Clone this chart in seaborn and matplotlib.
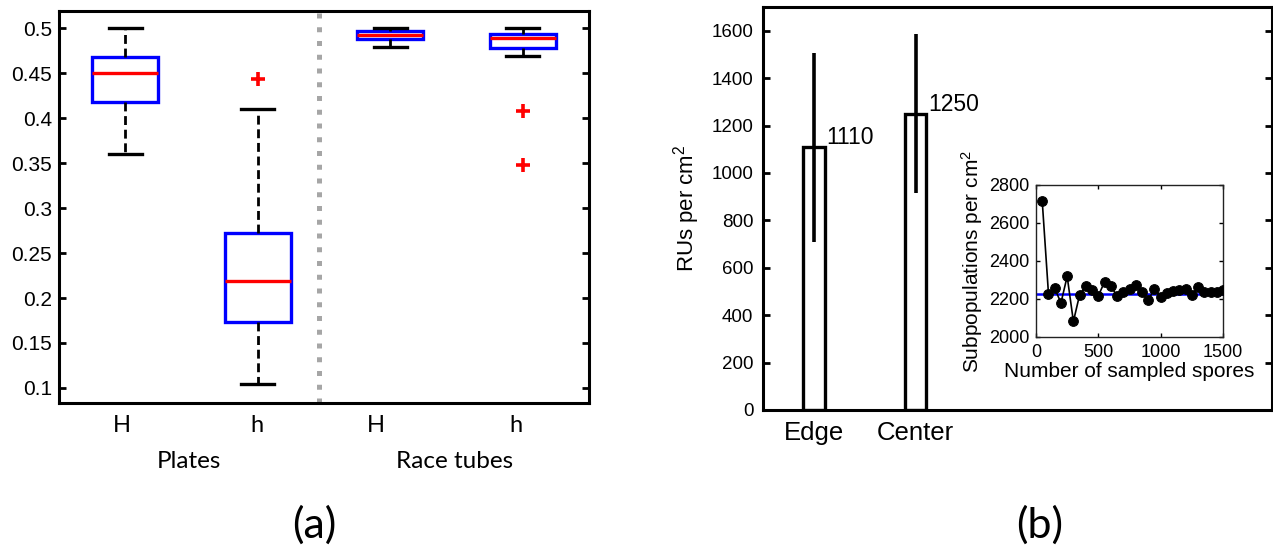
import numpy as np
import pandas as pd
import matplotlib
matplotlib.use("Agg")
import matplotlib.pyplot as plt
import seaborn as sns

# ---------------- data ----------------
box_groups = ["Plates H", "Plates h", "Race tubes H", "Race tubes h"]
plates_H = [0.36, 0.39, 0.418, 0.435, 0.45, 0.46, 0.468, 0.485, 0.50]
plates_h = [0.104, 0.15, 0.173, 0.20, 0.219, 0.25, 0.272, 0.41, 0.443]
race_H = [0.479, 0.485, 0.488, 0.490, 0.492, 0.494, 0.497, 0.499, 0.50]
race_h = [0.348, 0.408, 0.469, 0.478, 0.482, 0.486, 0.489, 0.490, 0.491,
          0.493, 0.495, 0.498, 0.50]
box_ticks = [0.1, 0.15, 0.2, 0.25, 0.3, 0.35, 0.4, 0.45, 0.5]
box_tick_labels = ["0.1", "0.15", "0.2", "0.25", "0.3", "0.35", "0.4", "0.45", "0.5"]
genotype_labels = ["H", "h", "H", "h"]
condition_labels = ["Plates", "Race tubes"]

bar_labels = ["Edge", "Center"]
bar_values = [1110, 1250]
err_low = [710, 916]
err_high = [1505, 1587]
bar_ticks = [0, 200, 400, 600, 800, 1000, 1200, 1400, 1600]

inset_spores = [50, 100, 150, 200, 250, 300, 350, 400, 450, 500, 550, 600, 650,
                700, 750, 800, 850, 900, 950, 1000, 1050, 1100, 1150, 1200, 1250,
                1300, 1350, 1400, 1450, 1500]
inset_subpops = [2715, 2228, 2257, 2179, 2319, 2082, 2222, 2266, 2245, 2217,
                 2290, 2266, 2217, 2235, 2252, 2275, 2235, 2193, 2254, 2210,
                 2231, 2240, 2249, 2252, 2222, 2263, 2235, 2235, 2235, 2245]
inset_mean = 2226

# ---------------- style ----------------
plt.rcParams["font.family"] = ["Liberation Sans", "DejaVu Sans"]
plt.rcParams["mathtext.fontset"] = "custom"
plt.rcParams["mathtext.rm"] = "Liberation Sans"
plt.rcParams["mathtext.it"] = "Liberation Sans"
calibri_like = ["Lato", "DejaVu Sans"]

W, H = 1273, 556
fig = plt.figure(figsize=(W / 100, H / 100), dpi=100)


def fx(px):
    return px / W


def fy(py):
    return 1 - py / H


# ---------------- panel (a): boxplots ----------------
ax1 = fig.add_axes([fx(59), fy(403), fx(589) - fx(59), fy(11) - fy(403)])
df = pd.DataFrame({
    "group": [box_groups[0]] * len(plates_H) + [box_groups[1]] * len(plates_h)
             + [box_groups[2]] * len(race_H) + [box_groups[3]] * len(race_h),
    "value": plates_H + plates_h + race_H + race_h,
})
sns.boxplot(
    data=df, x="group", y="value", order=box_groups, ax=ax1,
    width=0.5, whis=1.5, color="white", linecolor="blue",
    boxprops=dict(facecolor="white", edgecolor="blue", linewidth=2.4),
    medianprops=dict(color="red", linewidth=2.4),
    whiskerprops=dict(color="black", linewidth=2.0, linestyle=(0, (3.2, 1.7))),
    capprops=dict(color="black", linewidth=2.4),
    flierprops=dict(marker="+", markeredgecolor="red", markersize=10,
                    markeredgewidth=2.6),
)
ax1.axvline(1.46, color="#a6a6a6", linewidth=3.6, linestyle=(0, (1.0, 1.75)),
            dash_capstyle="butt", zorder=0)
ax1.set_xlim(-0.5, 3.5)
ax1.set_ylim(0.0833, 0.519)
ax1.set_yticks(box_ticks)
ax1.set_yticklabels(box_tick_labels)
ax1.set_xticks([])
ax1.set_xlabel("")
ax1.set_ylabel("")
ax1.tick_params(axis="y", direction="in", left=True, right=True, length=5,
                width=2, labelsize=15, pad=5)
for s in ax1.spines.values():
    s.set_linewidth(2.2)
    s.set_color("black")

for lbl, xp in zip(genotype_labels, [122, 257, 376, 516]):
    fig.text(fx(xp), fy(425), lbl, ha="center", va="center", fontsize=17,
             family=calibri_like)
for lbl, xp in zip(condition_labels, [189, 455]):
    fig.text(fx(xp), fy(462), lbl, ha="center", va="center", fontsize=17.5,
             family=calibri_like)
fig.text(fx(314), fy(525), "(a)", ha="center", va="center", fontsize=31,
         family=calibri_like)

# ---------------- panel (b): bars ----------------
ax2 = fig.add_axes([fx(763), fy(410), fx(1272) - fx(763), fy(7) - fy(410)])
sns.barplot(x=bar_labels, y=bar_values, ax=ax2, width=0.21, color="white",
            edgecolor="black", linewidth=2.4)
ax2.vlines(np.arange(len(bar_values)), err_low, err_high, color="black",
           linewidth=2.6, zorder=5)
for i, v in enumerate(bar_values):
    ax2.text(i + 0.12, v + 38, str(v), ha="left", va="center", fontsize=16.5)
ax2.set_xlim(-0.5, 4.5)
ax2.set_ylim(0, 1700)
ax2.set_yticks(bar_ticks)
ax2.tick_params(axis="y", direction="in", left=True, right=True, length=5,
                width=2, labelsize=13.5, pad=7)
ax2.tick_params(axis="x", length=0, labelsize=18.5, pad=8)
ax2.set_ylabel("RUs per cm$^2$", fontsize=16, labelpad=7)
for s in ax2.spines.values():
    s.set_linewidth(2.2)
    s.set_color("black")

fig.text(fx(1040), fy(525), "(b)", ha="center", va="center", fontsize=31,
         family=calibri_like)

# ---------------- inset ----------------
ax3 = fig.add_axes([fx(1036), fy(337), fx(1223) - fx(1036), fy(185) - fy(337)])
ax3.axhline(inset_mean, color="blue", linewidth=1.8, zorder=1)
sns.lineplot(x=inset_spores, y=inset_subpops, ax=ax3, color="black",
             linewidth=1.2, marker="o", markersize=7, markeredgecolor="black",
             zorder=3)
ax3.set_xlim(0, 1500)
ax3.set_ylim(2000, 2800)
ax3.set_xticks([0, 500, 1000, 1500])
ax3.set_yticks([2000, 2200, 2400, 2600, 2800])
ax3.tick_params(direction="in", top=True, right=True, length=3, width=1,
                labelsize=13, pad=5)
ax3.set_xlabel("Number of sampled spores", fontsize=15, labelpad=1)
ax3.set_ylabel("Subpopulations per cm$^2$", fontsize=15, labelpad=3)
for s in ax3.spines.values():
    s.set_linewidth(1.0)
    s.set_color("#222222")

fig.savefig("out.png", dpi=100)
